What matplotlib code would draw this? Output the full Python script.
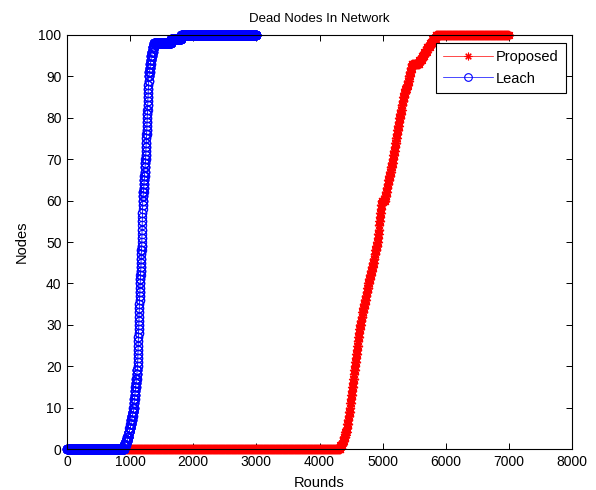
import numpy as np
import matplotlib
matplotlib.use("Agg")
import matplotlib.pyplot as plt

plt.rcParams['font.family'] = ['Liberation Sans', 'DejaVu Sans']

# Round at which each node died
leach_death_rounds = [
    905, 930, 955, 975, 990, 1005, 1015, 1028, 1040, 1052,
    1060, 1066, 1072, 1078, 1084, 1090, 1097, 1103, 1110, 1117,
    1119, 1121, 1123, 1125, 1127, 1129, 1131, 1133, 1135, 1137,
    1139, 1141, 1143, 1145, 1147, 1149, 1151, 1153, 1156, 1158,
    1161, 1164, 1166, 1169, 1172, 1174, 1177, 1179, 1182, 1185,
    1186, 1188, 1189, 1191, 1192, 1194, 1195, 1197, 1198, 1200,
    1204, 1208, 1213, 1217, 1221, 1226, 1230, 1234, 1239, 1243,
    1246, 1249, 1251, 1254, 1257, 1259, 1262, 1265, 1267, 1270,
    1272, 1275, 1277, 1280, 1282, 1285, 1287, 1290, 1292, 1295,
    1302, 1310, 1318, 1325, 1333, 1345, 1360, 1380, 1650, 1810,
]
proposed_death_rounds = [
    4330, 4365, 4385, 4408, 4429, 4440, 4450, 4460, 4470, 4481,
    4489, 4497, 4505, 4513, 4521, 4529, 4537, 4545, 4552, 4560,
    4568, 4576, 4584, 4592, 4600, 4608, 4616, 4624, 4632, 4640,
    4653, 4666, 4680, 4693, 4706, 4719, 4732, 4745, 4759, 4772,
    4786, 4800, 4815, 4829, 4843, 4858, 4872, 4886, 4901, 4915,
    4922, 4929, 4936, 4943, 4950, 4956, 4963, 4970, 4977, 4984,
    5040, 5055, 5065, 5078, 5090, 5104, 5118, 5131, 5145, 5159,
    5170, 5180, 5191, 5201, 5212, 5222, 5233, 5243, 5254, 5264,
    5277, 5290, 5302, 5315, 5328, 5344, 5360, 5380, 5400, 5415,
    5430, 5445, 5460, 5580, 5620, 5660, 5700, 5750, 5790, 5840,
]
leach_last_round = 3000
proposed_last_round = 7000

series_labels = ["Proposed", "Leach"]
x_ticks = [0, 1000, 2000, 3000, 4000, 5000, 6000, 7000, 8000]
y_ticks = [0, 10, 20, 30, 40, 50, 60, 70, 80, 90, 100]

def dead_per_round(deaths, last):
    rounds = np.arange(0, last + 1)
    d = np.sort(np.asarray(deaths))
    return rounds, np.searchsorted(d, rounds, side='right')

fig = plt.figure(figsize=(5.96, 4.90), dpi=100)
ax = fig.add_axes([67/596, 1-449/490, (572-67)/596, (449-35)/490])

rp, dp = dead_per_round(proposed_death_rounds, proposed_last_round)
rl, dl = dead_per_round(leach_death_rounds, leach_last_round)

ax.plot(rp, dp, color=(1, 0, 0), lw=0.6, marker=(8, 2, 0), ms=6.5,
        mew=0.8, label=series_labels[0], clip_on=False, zorder=3)
ax.plot(rl, dl, color=(0, 0, 1), lw=0.6, marker='o', ms=6,
        mfc='none', mew=0.8, label=series_labels[1], clip_on=False, zorder=4)

ax.set_xlim(0, 8000)
ax.set_ylim(0, 100)
ax.set_xticks(x_ticks)
ax.set_yticks(y_ticks)
ax.tick_params(direction='in', top=True, right=True, length=4, width=0.7,
               labelsize=10, pad=4)
for s in ax.spines.values():
    s.set_linewidth(0.8)
    s.set_zorder(5)
ax.set_title("Dead Nodes In Network", fontsize=9.5, pad=9)
ax.set_xlabel("Rounds", fontsize=10.5, labelpad=5)
ax.set_ylabel("Nodes", fontsize=10.5, labelpad=7)

leg = ax.legend(loc='upper right', bbox_to_anchor=(1-6/505, 1-8/414),
                borderaxespad=0, fontsize=10.5, handlelength=3.4,
                handletextpad=0.2, borderpad=0.5, labelspacing=0.5,
                numpoints=1, fancybox=False, framealpha=1,
                edgecolor='black')
leg.set_zorder(10)
leg.get_frame().set_linewidth(0.8)
for h in leg.legend_handles:
    h.set_markersize(5.5)
    h.set_markeredgewidth(0.8)
    h.set_linewidth(0.5)

fig.savefig("out.png", dpi=100)
